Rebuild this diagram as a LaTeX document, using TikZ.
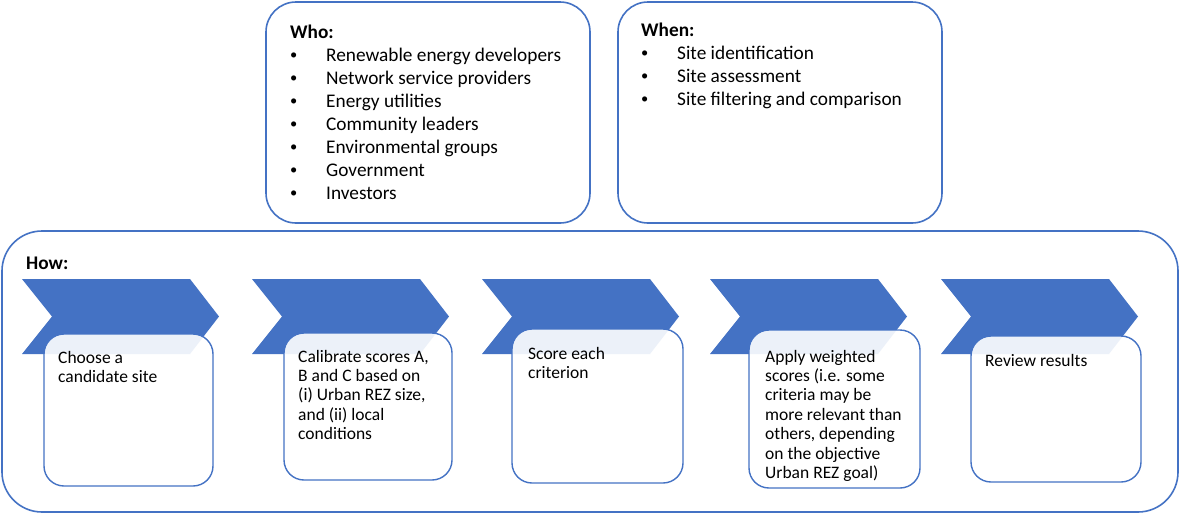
\documentclass[tikz,border=0pt]{standalone}
\usepackage{fontspec}
\setmainfont{Carlito}
\definecolor{stepblue}{HTML}{4472C4}
\newcommand{\bul}{\makebox[36pt][l]{\raisebox{1.6pt}{\scalebox{0.75}{•}}}}

\begin{document}
\begin{tikzpicture}[x=1pt,y=-1pt]
  % overall canvas
  \useasboundingbox (0,0) rectangle (1181,515);

  % styles
  \tikzset{
    panel/.style={draw=stepblue,line width=1.6pt,fill=white},
    chev/.style={fill=stepblue},
    stepbox/.style={draw=stepblue,line width=1.4pt,fill=white,fill opacity=0.9,rounded corners=20pt},
    listtext/.style={font=\fontsize{19.3}{23}\selectfont,anchor=base west,inner sep=0pt,align=left},
    steptext/.style={font=\fontsize{17.5}{19.4}\selectfont,anchor=base west,inner sep=0pt,align=left},
  }

  % white background
  \fill[white] (0,0) rectangle (1181,515);

  % the three panels
  \draw[panel,rounded corners=30pt] (266,2) rectangle (590,223);
  \draw[panel,rounded corners=30pt] (618,2) rectangle (942,223);
  \draw[panel,rounded corners=40pt] (2,231) rectangle (1178,512);

  % who / when lists (placed at the baseline of the last line)
  \node[listtext] (who) at (290,199) {\textbf{Who:}\\
    \bul Renewable energy developers\\
    \bul Network service providers\\
    \bul Energy utilities\\
    \bul Community leaders\\
    \bul Environmental groups\\
    \bul Government\\
    \bul Investors};
  \node[listtext] (when) at (641,105) {\textbf{When:}\\
    \bul Site identification\\
    \bul Site assessment\\
    \bul Site filtering and comparison};
  \node[listtext] (how) at (26,269) {\textbf{How:}};

  % blue chevrons
  \foreach \cx in {22,252,482,710,941}
    \fill[chev] (\cx,279) -- ++(168,0) -- ++(29,37.5) -- ++(-29,37.5)
      -- ++(-168,0) -- ++(30,-37.5) -- cycle;

  % step boxes
  \draw[stepbox] (44,334) rectangle (213,486);
  \draw[stepbox] (284,333) rectangle (452,480);
  \draw[stepbox] (512,329) rectangle (683,483);
  \draw[stepbox] (749,330) rectangle (920,488);
  \draw[stepbox] (971,336) rectangle (1141,482);

  % step texts (again at the last baseline)
  \node[steptext] (s1) at (58,382.4) {Choose a\\candidate site};
  \node[steptext] (s2) at (298,439.6) {Calibrate scores A,\\B and C based on\\(i) Urban REZ size,\\and (ii) local\\conditions};
  \node[steptext] (s3) at (528,378.4) {Score each\\criterion};
  \node[steptext] (s4) at (765,478.4) {Apply weighted\\scores (i.e. some\\criteria may be\\more relevant than\\others, depending\\on the objective\\Urban REZ goal)};
  \node[steptext] (s5) at (985,366) {Review results};
\end{tikzpicture}
\end{document}
